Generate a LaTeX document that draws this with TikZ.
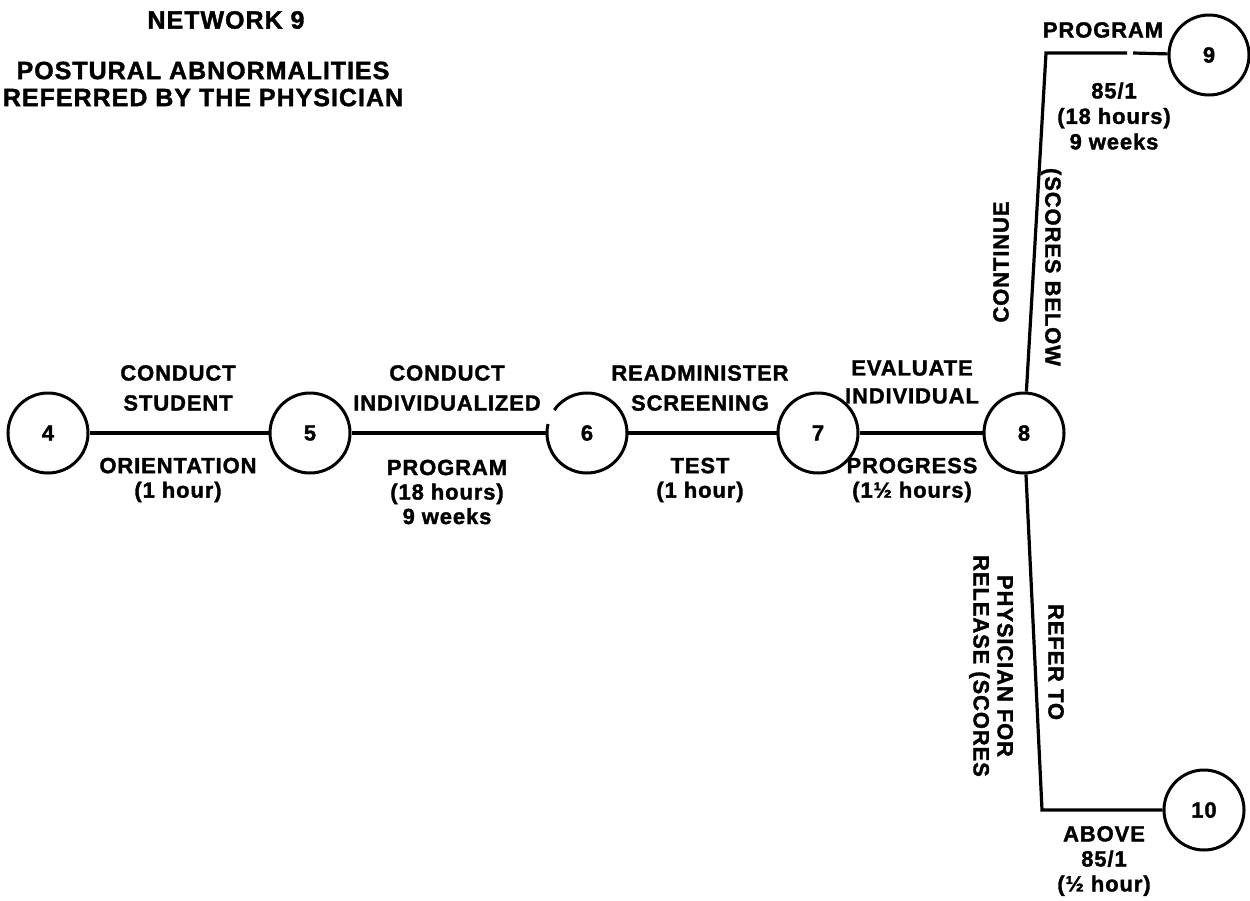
\documentclass[tikz,border=0pt]{standalone}
\usepackage{fontspec}
\newfontfamily\netfont[LetterSpace=4,BoldFeatures={FakeBold=1.5}]{Liberation Sans}
\begin{document}
\begin{tikzpicture}[x=1pt,y=-1pt,
  ev/.style={circle, draw, line width=3pt, minimum size=80pt, inner sep=0pt,
             font=\netfont\bfseries\fontsize{22}{24}\selectfont},
  evopen/.style={circle, minimum size=80pt, inner sep=0pt,
             font=\netfont\bfseries\fontsize{22}{24}\selectfont},
  act/.style={line width=3.2pt, line join=miter},
  toplab/.style={align=center, inner sep=0pt, font=\netfont\bfseries\fontsize{22}{30}\selectfont},
  botlab/.style={align=center, inner sep=0pt, font=\netfont\bfseries\fontsize{22}{24.5}\selectfont},
  sidelab/.style={align=center, inner sep=0pt, font=\netfont\bfseries\fontsize{22}{24}\selectfont},
  titlelab/.style={align=center, inner sep=0pt, font=\netfont\bfseries\fontsize{25}{27}\selectfont}]
\useasboundingbox (0,0) rectangle (1250,900);

% title
\node[titlelab] (ttl) at (226,20) {NETWORK 9};
\node[titlelab] (sub) at (203,84) {POSTURAL ABNORMALITIES\\REFERRED BY THE PHYSICIAN};

% events
\node[ev] (n4) at (48,433) {4};
\node[ev] (n5) at (310,433) {5};
\node[evopen] (n6) at (587,433) {6};
\node[ev] (n7) at (818,433) {7};
\node[ev] (n8) at (1024,433) {8};
\node[ev] (n9) at (1209,55) {9};
\node[ev] (n10) at (1204,810) {10};

% event 6 is drawn with a break in its outline
\draw[line width=3pt] (n6.center) ++(-145:40) arc[start angle=-145, end angle=193, radius=40];

% bends and break points
\coordinate (c1) at (1046,53);
\coordinate (g1) at (1127,53);
\coordinate (g2) at (1133,53);
\coordinate (c2) at (1042,810);

% activities
\draw[act] (n4) -- (n5);
\draw[act] (n5) -- (n6);
\draw[act] (n6) -- (n7);
\draw[act] (n7) -- (n8);
\draw[act] (n8) -- (c1) -- (g1);
\draw[act] (g2) -- (n9);
\draw[act] (n8) -- (c2) -- (n10);

% activity labels
\node[toplab] (t45) at (178,388) {CONDUCT\\STUDENT};
\node[botlab] (b45) at (178,480) {ORIENTATION\\(1 hour)};
\node[toplab] (t56) at (447,388) {CONDUCT\\INDIVIDUALIZED};
\node[botlab] (b56) at (447,492) {PROGRAM\\(18 hours)\\9 weeks};
\node[toplab] (t67) at (700,388) {READMINISTER\\SCREENING};
\node[botlab] (b67) at (700,480) {TEST\\(1 hour)};
\node[toplab, font=\netfont\bfseries\fontsize{22}{28}\selectfont] (t78) at (912,382) {EVALUATE\\INDIVIDUAL};
\node[botlab] (b78) at (912,480) {PROGRESS\\(1½ hours)};
\node[botlab] (t89) at (1103,30) {PROGRAM};
\node[botlab, font=\netfont\bfseries\fontsize{22}{25.5}\selectfont] (b89) at (1114,116) {85/1\\(18 hours)\\9 weeks};
\node[sidelab, rotate=90] (cont) at (1001,262) {CONTINUE};
\node[sidelab, rotate=-90] (below) at (1051,267) {(SCORES BELOW};
\node[sidelab, rotate=-90] (phys) at (991,666) {PHYSICIAN FOR\\RELEASE (SCORES};
\node[sidelab, rotate=-90] (refer) at (1056,662) {REFER TO};
\node[botlab, font=\netfont\bfseries\fontsize{22}{25}\selectfont] (b810) at (1104,861) {ABOVE\\85/1\\(½ hour)};
\end{tikzpicture}
\end{document}
